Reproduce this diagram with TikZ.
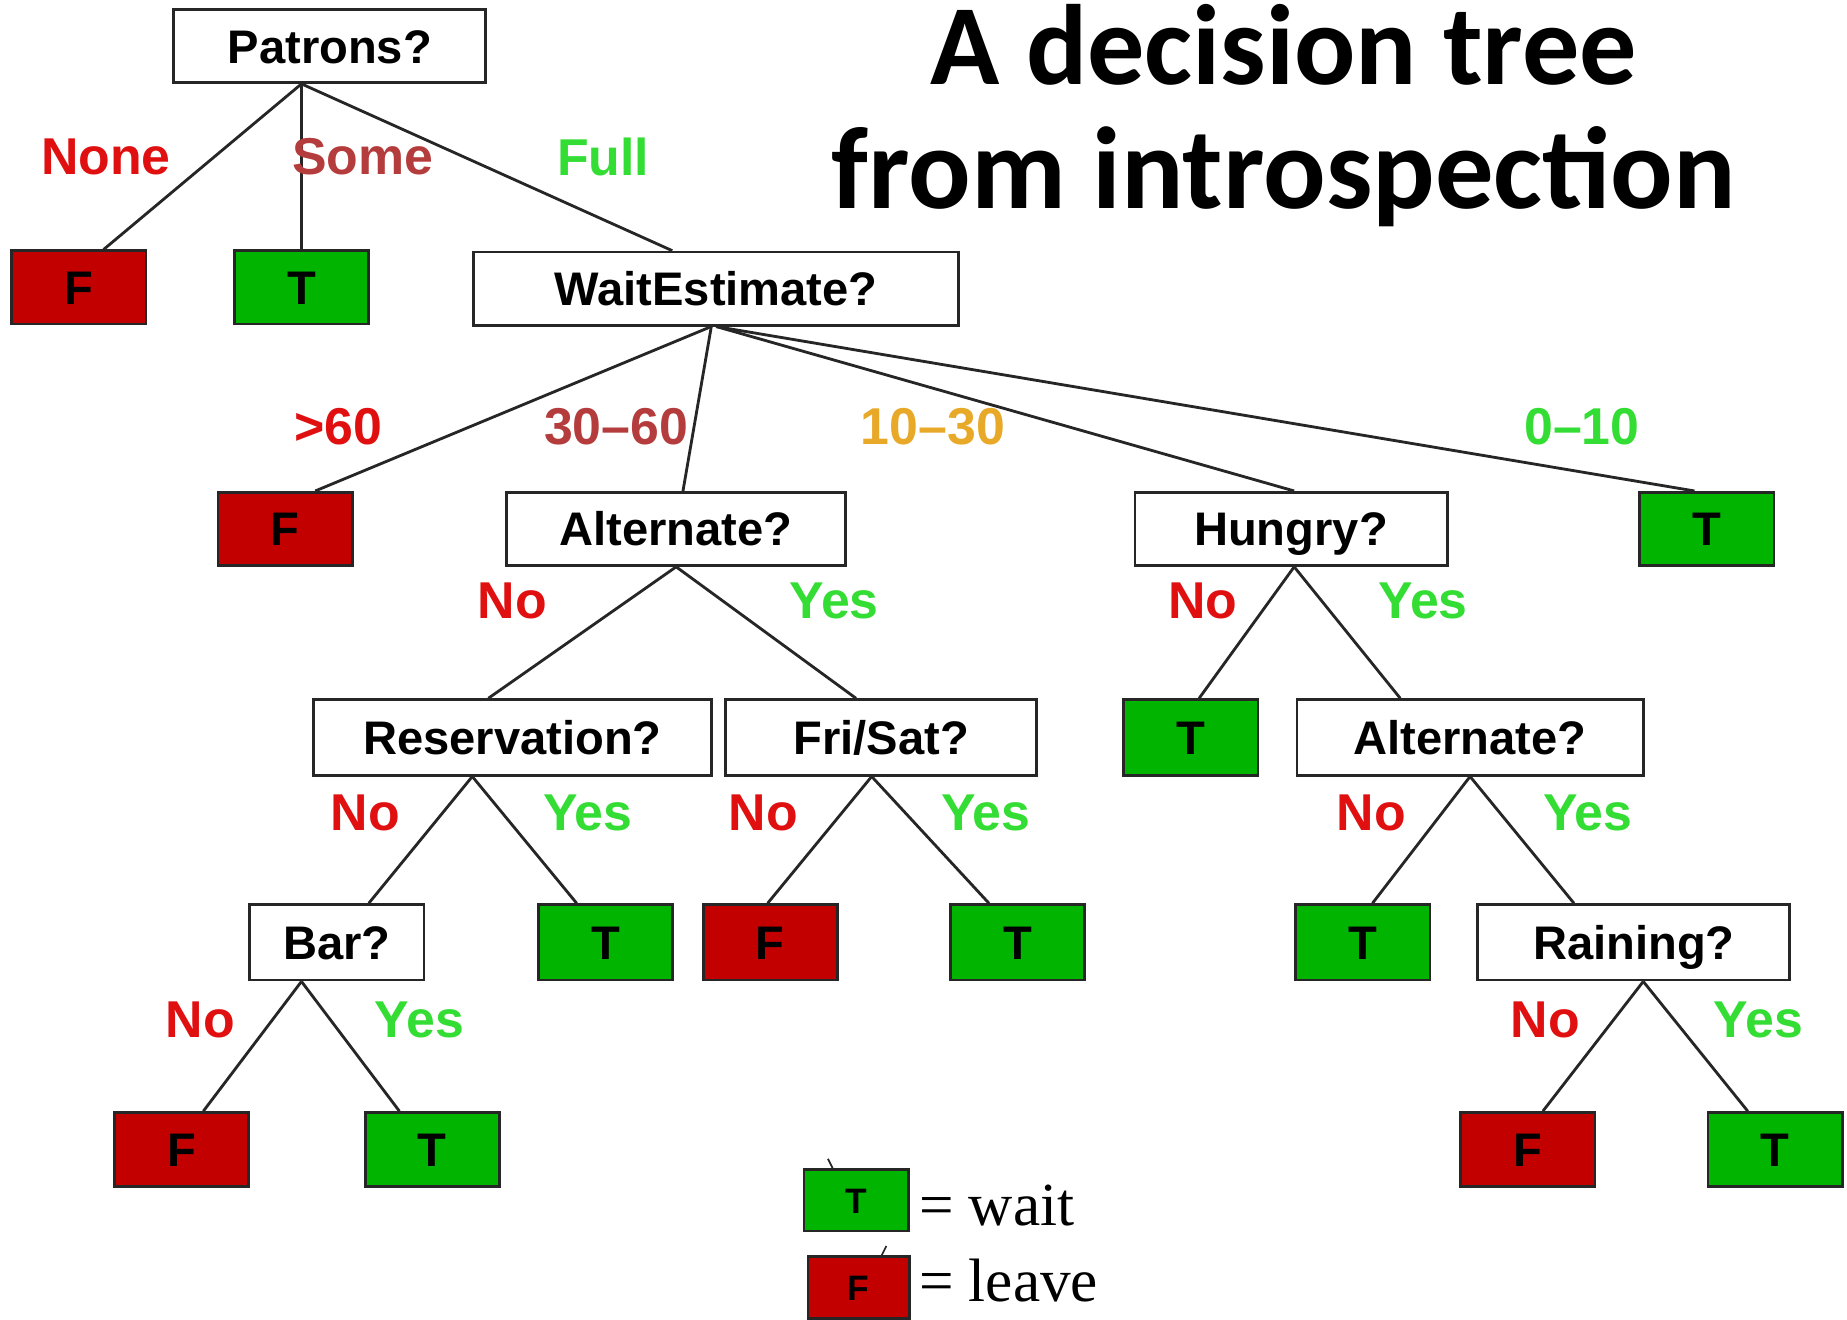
\documentclass[tikz,border=0pt]{standalone}
\usepackage{fontspec}
\setmainfont{Liberation Serif}
\newfontfamily\treefont{Liberation Sans}
\newfontfamily\titlefont{Carlito}
\usetikzlibrary{calc}
\definecolor{leafred}{HTML}{C20000}
\definecolor{leafgreen}{HTML}{00B400}
\definecolor{nored}{HTML}{E01010}
\definecolor{somered}{HTML}{B43C3C}
\definecolor{yesgreen}{HTML}{33DD33}
\definecolor{midorange}{HTML}{E8A828}
% edge from a point on the parent's bottom side to a point on the child's top side
\newcommand{\branch}[4]{\draw[edge] ($(#1.south west)!#2!(#1.south east)$) -- ($(#3.north west)!#4!(#3.north east)$);}

\begin{document}
\begin{tikzpicture}[x=1pt, y=-1pt,
    test/.style={draw=black!85, line width=2.4pt, fill=white, minimum height=62pt,
                 inner sep=0pt, text height=29pt, text depth=0pt,
                 font=\treefont\bfseries\fontsize{40}{40}\selectfont},
    leafT/.style={test, fill=leafgreen, minimum width=114pt},
    leafF/.style={test, fill=leafred, minimum width=114pt},
    blabel/.style={font=\treefont\bfseries\fontsize{44}{44}\selectfont, inner sep=0pt},
    edge/.style={line width=2.4pt, black!85}
]
    \useasboundingbox (0,0) rectangle (1568,1120);

    % title
    \node[font=\titlefont\bfseries\fontsize{97}{97}\selectfont, anchor=base] (title1) at (1090,72) {A decision tree};
    \node[font=\titlefont\bfseries\fontsize{99}{99}\selectfont, anchor=base] (title2) at (1090,177) {from introspection};

    % tests
    \node[test, minimum width=265pt] (patrons) at (280,39) {Patrons?};
    \node[test, minimum width=412pt] (wait) at (608,245) {WaitEstimate?};
    \node[test, minimum width=288pt] (alt) at (574,449) {Alternate?};
    \node[test, minimum width=265pt] (hungry) at (1096,449) {Hungry?};
    \node[test, minimum width=338pt, minimum height=64pt] (res) at (435,626) {Reservation?};
    \node[test, minimum width=264pt, minimum height=64pt] (frisat) at (748,626) {Fri/Sat?};
    \node[test, minimum width=294pt, minimum height=64pt] (alttwo) at (1248,626) {Alternate?};
    \node[test, minimum width=148pt, minimum height=64pt] (bar) at (286,800) {Bar?};
    \node[test, minimum width=265pt, minimum height=64pt] (rain) at (1387,800) {Raining?};

    % leaves
    \node[leafF] (fnone) at (67,244) {F};
    \node[leafT] (tsome) at (256,244) {T};
    \node[leafF] (fsixty) at (242,449) {F};
    \node[leafT] (tten) at (1449,449) {T};
    \node[leafT, minimum height=64pt] (thungry) at (1011,626) {T};
    \node[leafT, minimum height=64pt] (tres) at (514,800) {T};
    \node[leafF, minimum height=64pt] (ffri) at (654,800) {F};
    \node[leafT, minimum height=64pt] (tfri) at (864,800) {T};
    \node[leafT, minimum height=64pt] (talt) at (1157,800) {T};
    \node[leafF, minimum height=63pt] (fbar) at (154,976) {F};
    \node[leafT, minimum height=63pt] (tbar) at (367,976) {T};
    \node[leafF, minimum height=63pt] (frain) at (1297,976) {F};
    \node[leafT, minimum height=63pt] (train) at (1507,976) {T};

    % edges
    \branch{patrons}{.41}{fnone}{.68}
    \branch{patrons}{.41}{tsome}{.5}
    \branch{patrons}{.41}{wait}{.41}
    \branch{wait}{.49}{fsixty}{.72}
    \branch{wait}{.49}{alt}{.52}
    \branch{wait}{.5}{hungry}{.51}
    \branch{wait}{.5}{tten}{.41}
    \branch{alt}{.5}{res}{.44}
    \branch{alt}{.5}{frisat}{.42}
    \branch{hungry}{.51}{thungry}{.56}
    \branch{hungry}{.51}{alttwo}{.3}
    \branch{res}{.4}{bar}{.68}
    \branch{res}{.4}{tres}{.29}
    \branch{frisat}{.47}{ffri}{.48}
    \branch{frisat}{.47}{tfri}{.29}
    \branch{alttwo}{.5}{talt}{.57}
    \branch{alttwo}{.5}{rain}{.31}
    \branch{bar}{.3}{fbar}{.66}
    \branch{bar}{.3}{tbar}{.26}
    \branch{rain}{.53}{frain}{.61}
    \branch{rain}{.53}{train}{.3}

    % branch labels
    \node[blabel, text=nored] (lnone) at (90,133) {None};
    \node[blabel, text=somered] (lsome) at (308,133) {Some};
    \node[blabel, text=yesgreen] (lfull) at (512,133) {Full};
    \node[blabel, text=nored] (lsixty) at (287,362) {>60};
    \node[blabel, text=somered] (lthirty) at (523,362) {30–60};
    \node[blabel, text=midorange] (lten) at (792,362) {10–30};
    \node[blabel, text=yesgreen] (lzero) at (1343,362) {0–10};
    \node[blabel, text=nored] (altno) at (435,510) {No};
    \node[blabel, text=yesgreen] (altyes) at (708,510) {Yes};
    \node[blabel, text=nored] (hunno) at (1021,510) {No};
    \node[blabel, text=yesgreen] (hunyes) at (1208,510) {Yes};
    \node[blabel, text=nored] (resno) at (310,690) {No};
    \node[blabel, text=yesgreen] (resyes) at (499,690) {Yes};
    \node[blabel, text=nored] (frino) at (648,690) {No};
    \node[blabel, text=yesgreen] (friyes) at (837,690) {Yes};
    \node[blabel, text=nored] (alttwono) at (1164,690) {No};
    \node[blabel, text=yesgreen] (alttwoyes) at (1348,690) {Yes};
    \node[blabel, text=nored] (barno) at (170,866) {No};
    \node[blabel, text=yesgreen] (baryes) at (356,866) {Yes};
    \node[blabel, text=nored] (rainno) at (1312,866) {No};
    \node[blabel, text=yesgreen] (rainyes) at (1493,866) {Yes};

    % key
    \node[leafT, minimum width=89pt, minimum height=52pt, text height=22pt, font=\treefont\bfseries\fontsize{30}{30}\selectfont] (keyT) at (727,1019) {T};
    \node[leafF, minimum width=86pt, minimum height=52pt, text height=22pt, font=\treefont\bfseries\fontsize{30}{30}\selectfont] (keyF) at (729,1093) {F};
    \draw[edge, line width=1.5pt] ($(keyT.north west)!.28!(keyT.north east)$) -- ++(-4,-8);
    \draw[edge, line width=1.5pt] ($(keyF.north west)!.72!(keyF.north east)$) -- ++(4,-8);
    \node[font=\fontsize{52}{52}\selectfont, anchor=base west, inner sep=0pt] (keywait) at (780,1040) {= wait};
    \node[font=\fontsize{52}{52}\selectfont, anchor=base west, inner sep=0pt] (keyleave) at (780,1105) {= leave};
\end{tikzpicture}
\end{document}
